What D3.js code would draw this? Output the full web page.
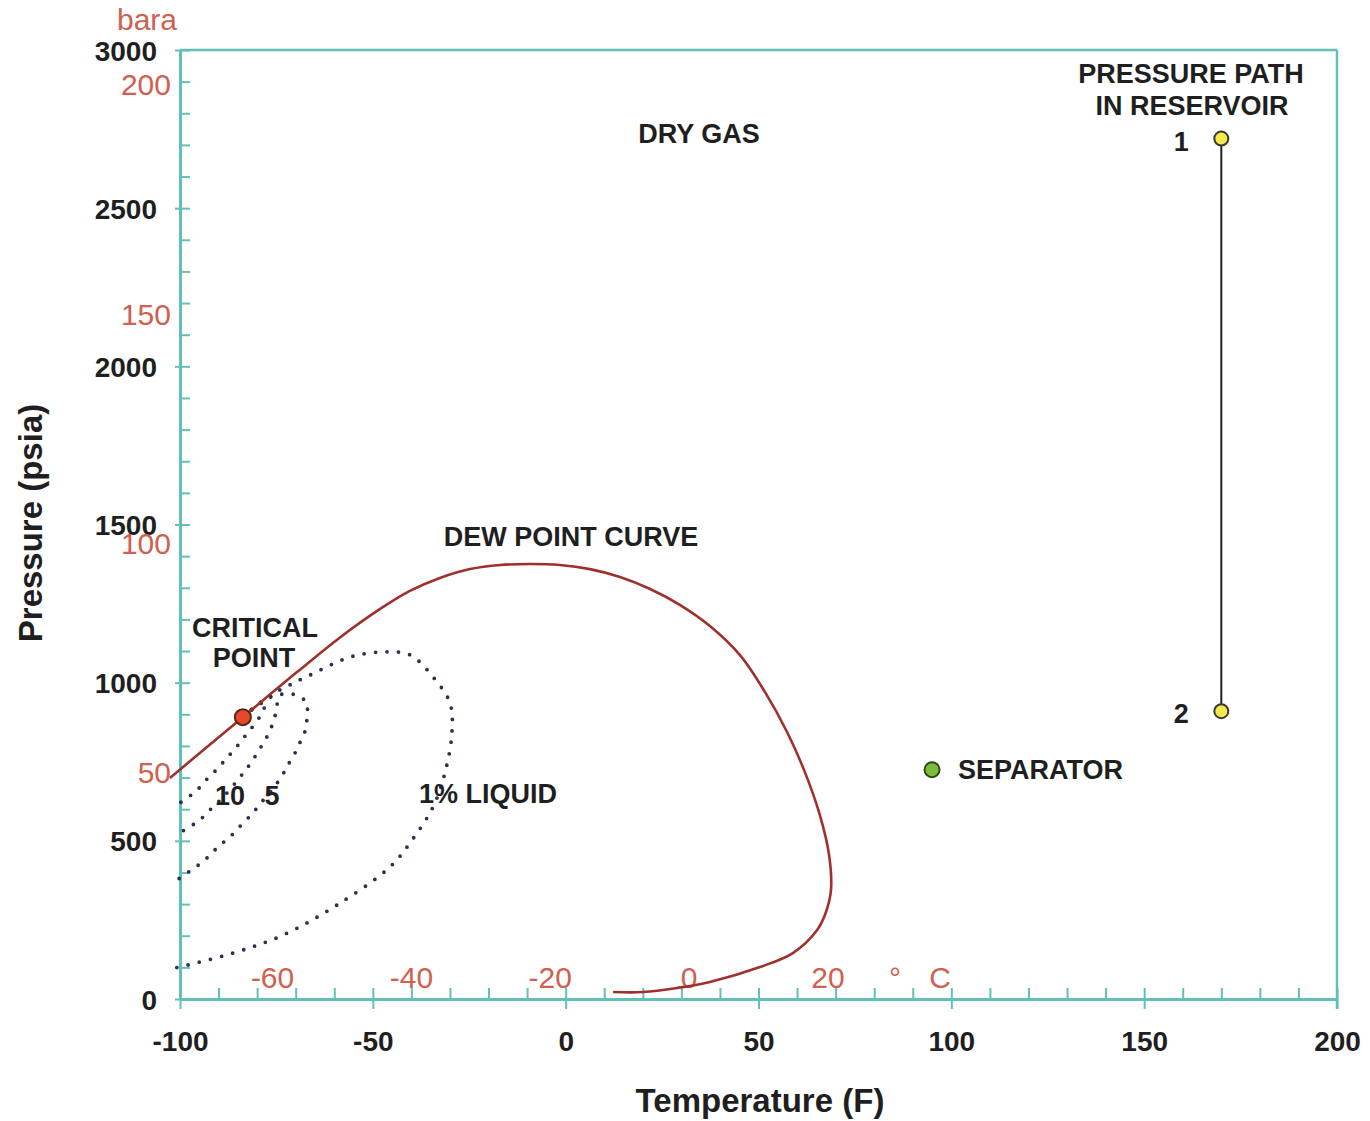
<!DOCTYPE html>
<html>
<head>
<meta charset="utf-8">
<script src="https://cdn.jsdelivr.net/npm/d3@7"></script>
<style>
  html, body { margin: 0; padding: 0; background: #ffffff; }
  svg { display: block; }
  text { font-family: "Liberation Sans", Arial, sans-serif; }
</style>
</head>
<body>
<svg id="chart" width="1370" height="1121"></svg>
<script>
// ---------------- DATA ----------------
const tempTicksF = [-100, -50, 0, 50, 100, 150, 200];
const pressureTicksPsia = [0, 500, 1000, 1500, 2000, 2500, 3000];
const celsiusLabels = [-60, -40, -20, 0, 20];
const baraLabels = [50, 100, 150, 200];

// Dew point curve [T (F), P (psia)]
const dewPointCurve = [
  [-102.6, 699], [-83.7, 891], [-69.5, 1035], [-58.5, 1143], [-48.1, 1233],
  [-40.4, 1290], [-32.6, 1331], [-24.8, 1359], [-17.0, 1372], [-9.3, 1375],
  [-1.5, 1372], [6.3, 1359], [14.1, 1334], [21.9, 1296], [29.6, 1246],
  [37.4, 1179], [45.2, 1087], [51.7, 970], [57.4, 844], [62.0, 718],
  [65.9, 582], [68.3, 455], [68.8, 345], [67.5, 275], [65.2, 218],
  [58.9, 145], [50.4, 101], [37.4, 54], [28.9, 35], [20.0, 22], [12.3, 22]
];

// Quality lines (% liquid) [T (F), P (psia)]
const liquid1 = [
  [-83.7, 891], [-77.2, 955], [-72.0, 990], [-66.3, 1024], [-55.9, 1081],
  [-47.4, 1097], [-40.4, 1088], [-34.4, 1018], [-30.0, 936], [-29.5, 841],
  [-31.3, 715], [-34.4, 607], [-39.8, 503], [-45.6, 417], [-59.3, 297],
  [-73.3, 202], [-86.3, 145], [-101.3, 98]
];
const liquid5 = [
  [-83.7, 891], [-76.7, 955], [-72.8, 964], [-69.9, 961], [-67.1, 936],
  [-67.1, 898], [-67.3, 857], [-68.6, 819], [-69.9, 784], [-71.7, 746],
  [-73.3, 711], [-76.1, 661], [-79.3, 616], [-81.3, 585], [-83.7, 556],
  [-86.0, 525], [-88.3, 500], [-90.7, 474], [-93.0, 446], [-95.6, 420],
  [-98.2, 398], [-100.8, 376]
];
const liquid10 = [
  [-83.7, 891], [-79.3, 936], [-76.1, 955], [-74.9, 945], [-75.1, 910],
  [-75.9, 873], [-77.2, 835], [-78.7, 803], [-80.6, 765], [-82.4, 733],
  [-84.4, 702], [-88.3, 645], [-92.2, 598], [-94.6, 569], [-97.1, 547],
  [-99.7, 528]
];
const liquidInner = [
  [-83.7, 891], [-79.8, 929], [-77.7, 939], [-78.7, 907], [-80.0, 879],
  [-82.1, 847], [-83.9, 819], [-86.0, 787], [-88.1, 759], [-90.1, 730],
  [-92.5, 702], [-94.8, 670], [-97.1, 645], [-100, 620]
];

const criticalPoint = { T: -83.7, P: 891 };
const separatorPoint = { T: 95, P: 725 };
const reservoirPath = [
  { label: "1", T: 170, P: 2720 },
  { label: "2", T: 170, P: 910 }
];

// ---------------- CHART ----------------
const svg = d3.select("#chart");
const teal = "#62c0b8";
const red = "#d0604f";
const ink = "#1f1f1f";

const x = d3.scaleLinear().domain([-100, 200]).range([180, 1337]);
const y = d3.scaleLinear().domain([0, 3000]).range([999, 50]);

// frame (top and right)
svg.append("line").attr("x1", x(-100)).attr("x2", x(200)).attr("y1", y(3000)).attr("y2", y(3000))
  .attr("stroke", teal).attr("stroke-width", 2.5);
svg.append("line").attr("x1", x(200)).attr("x2", x(200)).attr("y1", y(3000)).attr("y2", y(0) + 10)
  .attr("stroke", teal).attr("stroke-width", 2.5);

// x axis minor ticks (inside)
const gxMinor = svg.append("g").attr("transform", `translate(0,${y(0)})`)
  .call(d3.axisBottom(x).tickValues(d3.range(-100, 201, 10)).tickSize(-11).tickSizeOuter(0).tickFormat(""));
// x axis major ticks (outside) + labels
const gxMajor = svg.append("g").attr("transform", `translate(0,${y(0)})`)
  .call(d3.axisBottom(x).tickValues(tempTicksF).tickSize(10).tickSizeOuter(0).tickFormat(d => String(d)));
// y axis minor ticks
const gyMinor = svg.append("g").attr("transform", `translate(${x(-100)},0)`)
  .call(d3.axisLeft(y).tickValues(d3.range(0, 3001, 100)).tickSize(-10).tickSizeOuter(0).tickFormat(""));
const gyMajor = svg.append("g").attr("transform", `translate(${x(-100)},0)`)
  .call(d3.axisLeft(y).tickValues(pressureTicksPsia).tickSize(5).tickSizeOuter(0).tickFormat(d => String(d)));

[gxMinor, gxMajor, gyMinor, gyMajor].forEach(g => {
  g.select(".domain").attr("stroke", teal).attr("stroke-width", 3);
  g.selectAll(".tick line").attr("stroke", teal).attr("stroke-width", 2);
});
gxMajor.selectAll(".tick text")
  .attr("y", 52).attr("dy", 0)
  .attr("fill", ink).attr("font-size", 28).attr("font-weight", "bold")
  .attr("font-family", "Liberation Sans, Arial, sans-serif");
gyMajor.selectAll(".tick text")
  .attr("x", -23).attr("dy", "0.36em")
  .attr("fill", ink).attr("font-size", 28).attr("font-weight", "bold")
  .attr("font-family", "Liberation Sans, Arial, sans-serif");

// secondary unit labels (bara on pressure axis, deg C on temperature axis)
svg.append("g").selectAll("text").data(baraLabels).join("text")
  .attr("x", 171).attr("y", d => y(d * 14.5038) + 3).attr("dy", "0.36em")
  .attr("text-anchor", "end").attr("fill", red).attr("font-size", 30)
  .text(d => d);
svg.append("text").attr("x", 147).attr("y", 30).attr("text-anchor", "middle")
  .attr("fill", red).attr("font-size", 30).text("bara");

svg.append("g").selectAll("text").data(celsiusLabels).join("text")
  .attr("x", d => x(d * 9 / 5 + 32)).attr("y", 988)
  .attr("text-anchor", "middle").attr("fill", red).attr("font-size", 30)
  .text(d => String(d));
svg.append("text").attr("x", 895).attr("y", 988).attr("text-anchor", "middle")
  .attr("fill", red).attr("font-size", 30).text("°");
svg.append("text").attr("x", 940).attr("y", 988).attr("text-anchor", "middle")
  .attr("fill", red).attr("font-size", 30).text("C");

// axis titles
svg.append("text").attr("x", 760).attr("y", 1112).attr("text-anchor", "middle")
  .attr("fill", ink).attr("font-size", 33).attr("font-weight", "bold").text("Temperature (F)");
svg.append("text").attr("transform", "translate(42,523) rotate(-90)").attr("text-anchor", "middle")
  .attr("fill", ink).attr("font-size", 33).attr("font-weight", "bold").text("Pressure (psia)");

// curves
const line = d3.line().x(d => x(d[0])).y(d => y(d[1])).curve(d3.curveCatmullRom.alpha(0.5));

[liquid1, liquid5, liquid10, liquidInner].forEach(c => {
  svg.append("path").datum(c).attr("d", line)
    .attr("fill", "none").attr("stroke", "#2b3050").attr("stroke-width", 3.8)
    .attr("stroke-linecap", "round").attr("stroke-dasharray", "0 11.5");
});

svg.append("path").datum(dewPointCurve).attr("d", line)
  .attr("fill", "none").attr("stroke", "#a0302c").attr("stroke-width", 2.6);

// reservoir path
svg.append("line")
  .attr("x1", x(reservoirPath[0].T)).attr("y1", y(reservoirPath[0].P))
  .attr("x2", x(reservoirPath[1].T)).attr("y2", y(reservoirPath[1].P))
  .attr("stroke", "#222").attr("stroke-width", 2);
svg.append("g").selectAll("circle").data(reservoirPath).join("circle")
  .attr("cx", d => x(d.T)).attr("cy", d => y(d.P)).attr("r", 7)
  .attr("fill", "#f6e84e").attr("stroke", "#3a3a30").attr("stroke-width", 2);
svg.append("g").selectAll("text").data(reservoirPath).join("text")
  .attr("x", d => x(d.T) - 40).attr("y", d => y(d.P) + 12)
  .attr("text-anchor", "middle").attr("fill", ink).attr("font-size", 27).attr("font-weight", "bold")
  .text(d => d.label);

// separator
svg.append("circle").attr("cx", x(separatorPoint.T)).attr("cy", y(separatorPoint.P)).attr("r", 7.5)
  .attr("fill", "#7cbc3a").attr("stroke", "#2e4a1c").attr("stroke-width", 2);
svg.append("text").attr("x", x(separatorPoint.T) + 26).attr("y", y(separatorPoint.P) + 9)
  .attr("fill", ink).attr("font-size", 27).attr("font-weight", "bold").text("SEPARATOR");

// critical point
svg.append("circle").attr("cx", x(criticalPoint.T)).attr("cy", y(criticalPoint.P)).attr("r", 8)
  .attr("fill", "#e8482a").attr("stroke", "#5a2418").attr("stroke-width", 2);

// annotations
const notes = [
  { t: "DRY GAS", x: 699, y: 143 },
  { t: "PRESSURE PATH", x: 1191, y: 83 },
  { t: "IN RESERVOIR", x: 1192, y: 115 },
  { t: "DEW POINT CURVE", x: 571, y: 546 },
  { t: "CRITICAL", x: 255, y: 637 },
  { t: "POINT", x: 254, y: 667 },
  { t: "10", x: 230, y: 805 },
  { t: "5", x: 272, y: 805 },
  { t: "1% LIQUID", x: 488, y: 803 }
];
svg.append("g").selectAll("text").data(notes).join("text")
  .attr("x", d => d.x).attr("y", d => d.y).attr("text-anchor", "middle")
  .attr("fill", ink).attr("font-size", 27).attr("font-weight", "bold")
  .text(d => d.t);
</script>
</body>
</html>
